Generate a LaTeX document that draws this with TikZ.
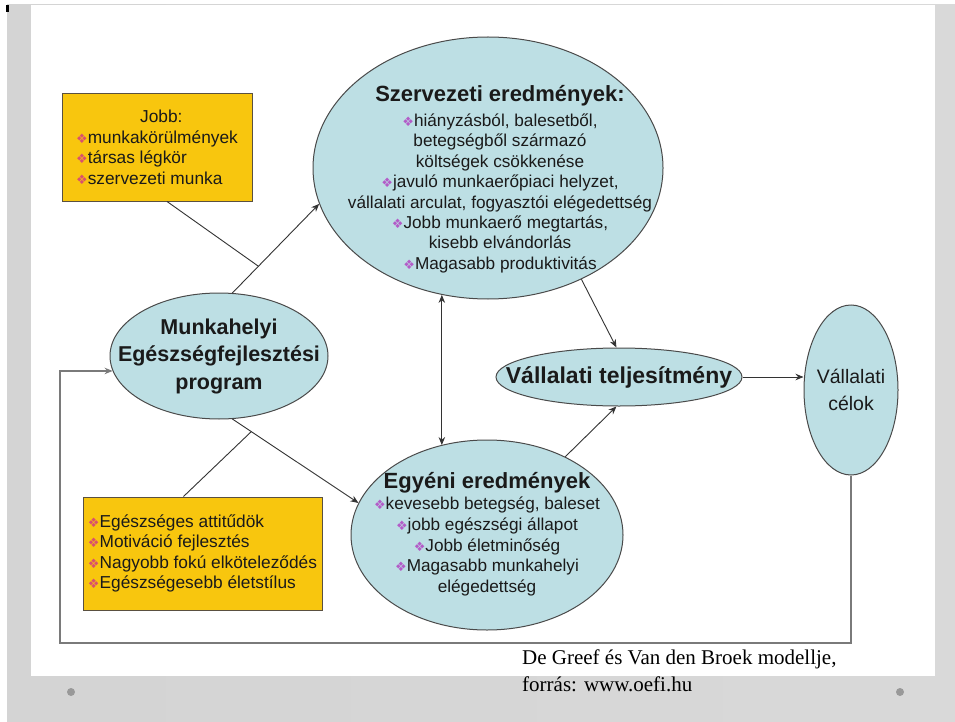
\documentclass[tikz,border=0pt]{standalone}
\usepackage{fontspec}
\setmainfont{Liberation Sans}
\newfontfamily\sourcefont{Liberation Serif}
\newfontfamily\bulletfont{DejaVu Sans}
\usepackage{xcolor}
\definecolor{ellfill}{HTML}{BDDFE4}
\definecolor{ellline}{HTML}{4A4A4A}
\definecolor{boxfill}{HTML}{F8C60E}
\definecolor{boxline}{HTML}{5A5040}
\definecolor{arrcol}{HTML}{333333}
\definecolor{fbcol}{HTML}{7A7A7A}
\definecolor{bulA}{HTML}{B35CC8}
\definecolor{bulB}{HTML}{D9506E}
\definecolor{txtcol}{HTML}{1A1A1A}
\usepackage{tikz}
\usetikzlibrary{positioning,arrows.meta,shapes.geometric,calc}

\newcommand{\bulE}{{\bulletfont\color{bulA}\fontsize{13}{13}\selectfont ❖}}
\newcommand{\bulY}{{\bulletfont\color{bulB}\fontsize{13}{13}\selectfont ❖}}

\begin{document}
\begin{tikzpicture}[x=1pt, y=-1pt,
    ell/.style={ellipse, draw=ellline, fill=ellfill, line width=1pt, inner sep=0pt},
    ybox/.style={draw=boxline, fill=boxfill, line width=1pt, inner sep=0pt,
                 align=left, text=txtcol, font=\fontsize{17.3}{20.5}\selectfont},
    body/.style={align=center, text=txtcol, inner sep=0pt},
    arr/.style={-{Stealth[length=8pt,width=6.5pt]}, line width=0.9pt, draw=arrcol},
    darr/.style={{Stealth[length=8pt,width=6.5pt]}-{Stealth[length=8pt,width=6.5pt]},
                 line width=0.9pt, draw=arrcol},
    link/.style={line width=0.9pt, draw=arrcol},
    fb/.style={-{Stealth[length=8pt,width=6.5pt]}, line width=1.1pt, draw=fbcol}]
  \useasboundingbox (0,0) rectangle (955,722);

  % slide background
  \fill[white] (0,0) rectangle (955,722);
  \shade[left color=black!17, middle color=black!5, right color=black!15]
    (7,5) rectangle (955,722);
  \fill[white] (31,5) rectangle (935,676);
  \fill[black] (6,5) rectangle (9,12);
  \fill[black!40] (71,692) circle (4);
  \fill[black!40] (900,692) circle (4);

  % ellipses
  \node[ell, minimum width=350pt, minimum height=262pt] (sze) at (488,168) {};
  \node[ell, minimum width=218pt, minimum height=126pt] (mun) at (219,356) {};
  \node[ell, minimum width=246pt, minimum height=58pt] (vt) at (619,377) {};
  \node[ell, minimum width=94pt, minimum height=170pt] (cel) at (851,390) {};
  \node[ell, minimum width=272pt, minimum height=190pt] (egy) at (487,535) {};

  % ellipse texts
  \node[body, font=\fontsize{17.2}{20.4}\selectfont] (szetxt) at (500,179)
    {{\fontsize{22}{25}\selectfont\bfseries Szervezeti eredmények:}\\[5pt]
     \bulE hiányzásból, balesetből,\\
     betegségből származó\\
     költségek csökkenése\\
     \bulE javuló munkaerőpiaci helyzet,\\
     vállalati arculat, fogyasztói elégedettség\\
     \bulE Jobb munkaerő megtartás,\\
     kisebb elvándorlás\\
     \bulE Magasabb produktivitás};
  \node[body, font=\fontsize{21.5}{27.5}\selectfont\bfseries] (muntxt) at (mun)
    {Munkahelyi\\ Egészségfejlesztési\\ program};
  \node[body, font=\fontsize{23}{25}\selectfont\bfseries] (vttxt) at (vt)
    {Vállalati teljesítmény};
  \node[body, font=\fontsize{19.5}{27}\selectfont] (celtxt) at (cel)
    {Vállalati\\ célok};
  \node[body, font=\fontsize{17.2}{20.7}\selectfont] (egytxt) at (487,534)
    {{\fontsize{22}{25}\selectfont\bfseries Egyéni eredmények}\\[1pt]
     \bulE kevesebb betegség, baleset\\
     \bulE jobb egészségi állapot\\
     \bulE Jobb életminőség\\
     \bulE Magasabb munkahelyi\\
     elégedettség};

  % yellow boxes
  \node[ybox, minimum width=190pt, minimum height=107pt] (jobb) at (157,147.5)
    {\hspace*{64pt}Jobb:\\
     \bulY munkakörülmények\\
     \bulY társas légkör\\
     \bulY szervezeti munka};

  \node[ybox, minimum width=239pt, minimum height=113pt] (att) at (202.5,553.5)
    {\bulY Egészséges attitűdök\\
     \bulY Motiváció fejlesztés\\
     \bulY Nagyobb fokú elköteleződés\\
     \bulY Egészségesebb életstílus};

  % arrows
  \draw[arr] (mun.78) -- (sze.192);
  \draw[arr] (mun.-78) -- (egy.166);
  \draw[arr] (sze.-50) -- (vt.95);
  \draw[arr] (egy.45) -- (vt.265);
  \draw[arr] (vt.east) -- (vt.east -| cel.west);
  \draw[darr] (sze.250) -- (sze.250 |- egy.117);

  % moderating links
  \coordinate (mtop) at ($(mun.78)!0.3!(sze.192)$);
  \coordinate (mbot) at ($(mun.-78)!0.15!(egy.166)$);
  \draw[link] ([xshift=10pt]jobb.south) -- (mtop);
  \draw[link] ([xshift=-19pt]att.north) -- (mbot);

  % feedback loop
  \coordinate (fbl) at (60,643);
  \draw[fb] (cel.south) |- (fbl) |- (mun.188);

  % source
  \node[anchor=north west, align=left, inner sep=0pt, text=black,
        font=\sourcefont\fontsize{21}{27}\selectfont] (src) at (522,650)
    {De Greef és Van den Broek modellje,\\ forrás: www.oefi.hu};
\end{tikzpicture}
\end{document}
